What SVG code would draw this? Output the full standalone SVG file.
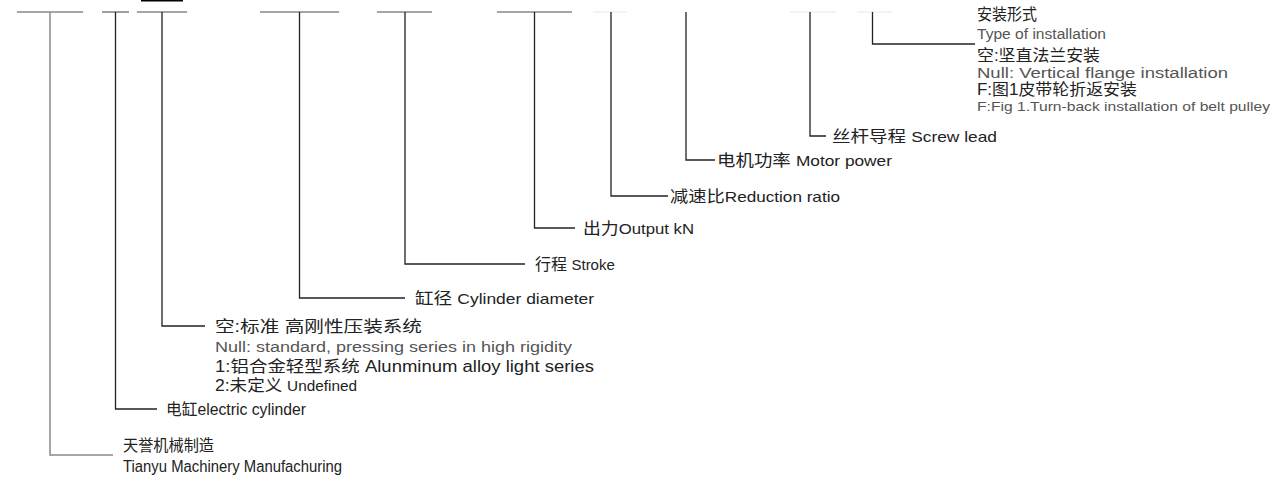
<svg xmlns="http://www.w3.org/2000/svg" width="1282" height="481" viewBox="0 0 1282 481">
<style>
text{font-family:"Liberation Sans","Noto Sans CJK SC",sans-serif;fill:#222;font-size:16px}
.s{fill:#555;font-size:14px}
.xs{fill:#555;font-size:13px}
.c{fill:none;stroke:#222;stroke-width:1.3}
.g{fill:none;stroke:#8a8a8a;stroke-width:1.5}
.u{stroke:#888;stroke-width:1.6}
.uf{stroke:#e8e8e8;stroke-width:1.2}
</style>
<rect x="141" y="0" width="42" height="1.5" fill="#000"/>
<g id="underlines">
<line class="u" x1="17" y1="12" x2="83" y2="12"/>
<line class="u" x1="102" y1="12" x2="129" y2="12"/>
<line class="u" x1="137" y1="12" x2="187" y2="12"/>
<line class="u" x1="260" y1="12" x2="339" y2="12" stroke="#999"/>
<line class="u" x1="377" y1="12" x2="432" y2="12" stroke="#666"/>
<line class="u" x1="497" y1="12" x2="572" y2="12" stroke="#777"/>
<line class="uf" x1="593" y1="12" x2="627" y2="12"/>
<line class="uf" x1="790" y1="12" x2="836" y2="12"/>
<line class="uf" x1="857" y1="12" x2="892" y2="12"/>
</g>
<g id="connectors">
<polyline class="g" points="50,12 50,455 113,455"/>
<polyline class="c" points="115.5,12 115.5,409 157,409" stroke="#555"/>
<polyline class="c" points="162,12 162,326 205,326" stroke="#111" stroke-width="1.6"/>
<polyline class="c" points="299.5,12 299.5,298 405,298"/>
<polyline class="c" points="405,12 405,264 525,264"/>
<polyline class="c" points="534.5,12 534.5,228 575,228"/>
<polyline class="c" points="611,12 611,196 668,196"/>
<polyline class="c" points="686,12 686,160 715,160"/>
<polyline class="c" points="810,12 810,136 826,136"/>
<polyline class="c" points="872.5,12 872.5,44 975,44"/>
</g>
<g id="n-tianyu">
<text x="123" y="451" textLength="91" lengthAdjust="spacingAndGlyphs">天誉机械制造</text>
<text x="123" y="472" textLength="219" lengthAdjust="spacingAndGlyphs">Tianyu Machinery Manufachuring</text>
</g>
<g id="n-cylinder">
<text x="166" y="415" textLength="140" lengthAdjust="spacingAndGlyphs">电缸electric cylinder</text>
</g>
<g id="n-series">
<text x="215" y="332" font-size="17" textLength="207" lengthAdjust="spacingAndGlyphs">空:标准 高刚性压装系统</text>
<text class="s" x="215" y="352" textLength="357" lengthAdjust="spacingAndGlyphs">Null: standard, pressing series in high rigidity</text>
<text x="215" y="372" textLength="379" lengthAdjust="spacingAndGlyphs">1:铝合金轻型系统 Alunminum alloy light series</text>
<text x="215" y="391" textLength="142" lengthAdjust="spacingAndGlyphs">2:未定义 <tspan font-size="14">Undefined</tspan></text>
</g>
<g id="n-diameter"><text x="415" y="304" textLength="179" lengthAdjust="spacingAndGlyphs">缸径 <tspan font-size="15">Cylinder diameter</tspan></text></g>
<g id="n-stroke"><text x="535" y="270">行程 <tspan font-size="15">Stroke</tspan></text></g>
<g id="n-output"><text x="583" y="234" textLength="111" lengthAdjust="spacingAndGlyphs">出力<tspan font-size="15">Output kN</tspan></text></g>
<g id="n-ratio"><text x="670" y="202" textLength="170" lengthAdjust="spacingAndGlyphs">减速比<tspan font-size="15">Reduction ratio</tspan></text></g>
<g id="n-motor"><text x="717" y="166" textLength="175" lengthAdjust="spacingAndGlyphs">电机功率 <tspan font-size="15">Motor power</tspan></text></g>
<g id="n-lead"><text x="832" y="142" textLength="165" lengthAdjust="spacingAndGlyphs">丝杆导程 <tspan font-size="15">Screw lead</tspan></text></g>
<g id="n-install">
<text x="977" y="20" textLength="60" lengthAdjust="spacingAndGlyphs">安装形式</text>
<text class="s" x="977" y="39" textLength="129" lengthAdjust="spacingAndGlyphs">Type of installation</text>
<text x="977" y="61" textLength="123" lengthAdjust="spacingAndGlyphs">空:坚直法兰安装</text>
<text class="s" x="977" y="78" textLength="251" lengthAdjust="spacingAndGlyphs">Null: Vertical flange installation</text>
<text x="977" y="95" textLength="160" lengthAdjust="spacingAndGlyphs">F:图1皮带轮折返安装</text>
<text class="xs" x="977" y="111" textLength="293" lengthAdjust="spacingAndGlyphs">F:Fig 1.Turn-back installation of belt pulley</text>
</g>
</svg>
